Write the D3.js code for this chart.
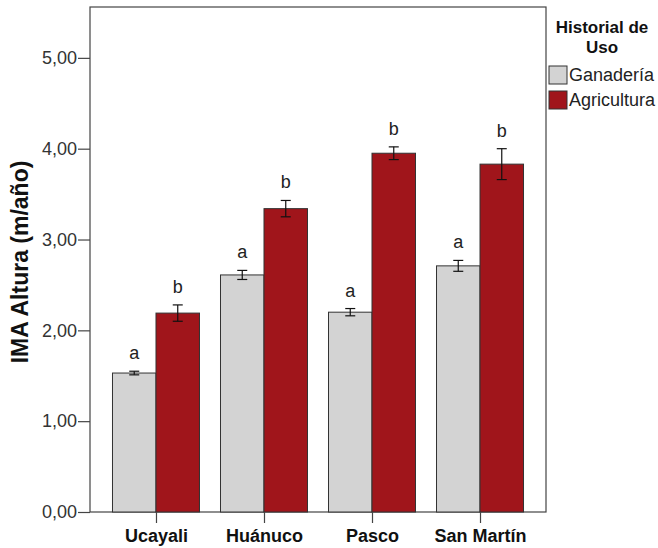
<!DOCTYPE html>
<html><head><meta charset="utf-8">
<script src="https://cdn.jsdelivr.net/npm/d3@7"></script>
<style>body{margin:0;background:#fff}svg{font-family:Arial,"Liberation Sans",sans-serif}</style>
</head><body><svg id="c" width="658" height="548"></svg>
<script>
const categories = ["Ucayali","Huánuco","Pasco","San Martín"];
const seriesNames = ["Ganadería","Agricultura"];
const ganaderia = [1.53, 2.61, 2.20, 2.71];
const ganaderiaErr = [0.02, 0.05, 0.04, 0.06];
const agricultura = [2.19, 3.34, 3.95, 3.83];
const agriculturaErr = [0.09, 0.09, 0.07, 0.17];
const ganaderiaLetters = ["a","a","a","a"];
const agriculturaLetters = ["b","b","b","b"];
const yTicks = [0,1,2,3,4,5];
const colors = ["#d3d3d3","#a0151b"];

const FF = "Arial,'Liberation Sans',sans-serif";
const svg = d3.select("#c");
const L=90, R=546, T=7, B=512;
const y = d3.scaleLinear().domain([0,5.56]).range([B,T]);
const x = d3.scalePoint().domain(categories).range([L,R]).padding(0.611);
const bw = 43.5;

const series = [
  {name:seriesNames[0], vals:ganaderia, err:ganaderiaErr, letters:ganaderiaLetters, color:colors[0], off:-1},
  {name:seriesNames[1], vals:agricultura, err:agriculturaErr, letters:agriculturaLetters, color:colors[1], off:0}
];

// frame
svg.append("rect").attr("x",L).attr("y",T).attr("width",R-L).attr("height",B-T)
  .attr("fill","none").attr("stroke","#444").attr("stroke-width",1.2);

series.forEach(s=>{
  const g = svg.append("g");
  categories.forEach((c,i)=>{
    const x0 = x(c) + s.off*bw;
    g.append("rect").attr("x",x0).attr("y",y(s.vals[i])).attr("width",bw).attr("height",B-y(s.vals[i]))
      .attr("fill",s.color).attr("stroke","#333").attr("stroke-width",1);
    const cx = x0 + bw/2;
    const hi = y(s.vals[i]+s.err[i]), lo = y(s.vals[i]-s.err[i]);
    g.append("line").attr("x1",cx).attr("x2",cx).attr("y1",hi).attr("y2",lo).attr("stroke","#111").attr("stroke-width",1.2);
    [hi,lo].forEach(yy=>g.append("line").attr("x1",cx-5).attr("x2",cx+5).attr("y1",yy).attr("y2",yy).attr("stroke","#111").attr("stroke-width",1.2));
    g.append("text").attr("x",cx).attr("y",hi-12).attr("text-anchor","middle").attr("font-size",18).attr("fill","#222").text(s.letters[i]);
  });
});

// y axis
const yAxis = d3.axisLeft(y).tickValues(yTicks).tickSize(12).tickPadding(1)
  .tickFormat(d=>d3.format(".2f")(d).replace(".",","));
const ya = svg.append("g").attr("transform",`translate(${L},0)`).call(yAxis);
ya.select(".domain").remove();
ya.selectAll("line").attr("stroke","#444").attr("stroke-width",1.2);
ya.selectAll("text").attr("font-size",18).attr("fill","#333").attr("font-family",FF);

// x axis
const xAxis = d3.axisBottom(x).tickSize(11).tickPadding(6);
const xa = svg.append("g").attr("transform",`translate(0,${B})`).call(xAxis);
xa.select(".domain").remove();
xa.selectAll("line").attr("stroke","#444").attr("stroke-width",1.2);
xa.selectAll("text").attr("font-size",18).attr("font-weight","bold").attr("fill","#111").attr("font-family",FF);

// y label
svg.append("text").attr("transform",`translate(28,262) rotate(-90)`).attr("text-anchor","middle")
  .attr("font-size",23).attr("font-weight","bold").attr("fill","#111").text("IMA Altura (m/año)");

// legend
const lg = svg.append("g");
lg.append("text").attr("x",602).attr("y",33).attr("text-anchor","middle").attr("font-size",17).attr("font-weight","bold").attr("fill","#111").text("Historial de");
lg.append("text").attr("x",602).attr("y",53).attr("text-anchor","middle").attr("font-size",17).attr("font-weight","bold").attr("fill","#111").text("Uso");
series.forEach((s,i)=>{
  const yy = 66 + i*25;
  lg.append("rect").attr("x",549).attr("y",yy).attr("width",18).attr("height",18).attr("fill",s.color).attr("stroke","#333").attr("stroke-width",1);
  lg.append("text").attr("x",569).attr("y",yy+15).attr("font-size",18).attr("fill","#222").text(s.name);
});
</script></body></html>
